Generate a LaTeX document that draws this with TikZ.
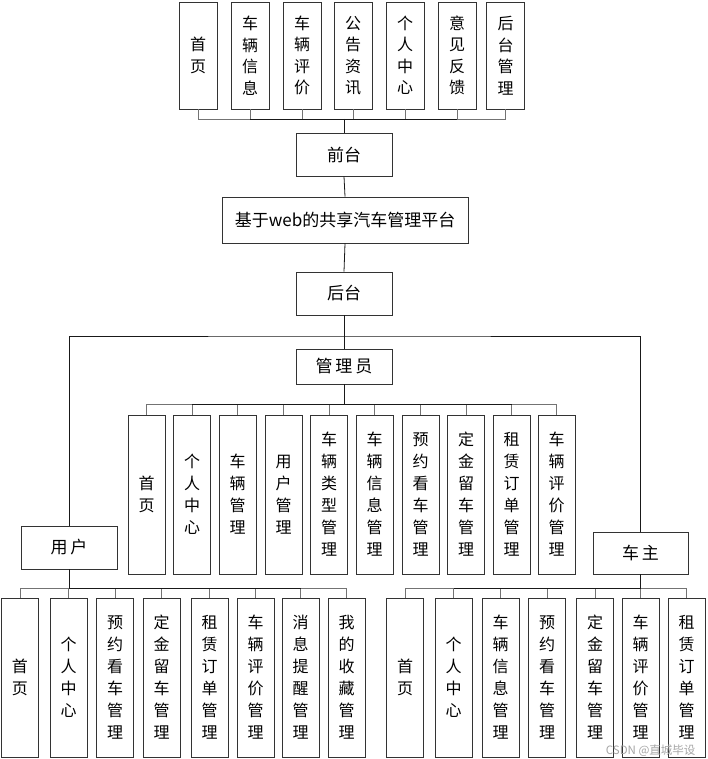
\documentclass[tikz,border=0pt]{standalone}
\usepackage{fontspec}
\setmainfont{Noto Sans CJK SC}
\begin{document}
\begin{tikzpicture}[x=1pt,y=-1pt,
  box/.style={draw=black!80, line width=0.8pt, fill=white, inner sep=0pt, align=center, font=\fontsize{16}{22}\selectfont},
  vbox/.style={box, minimum width=37pt, minimum height=159pt},
  tbox/.style={box, minimum width=38pt, minimum height=107pt, font=\fontsize{16}{21.5}\selectfont},
  hbox/.style={box, minimum width=96pt, minimum height=43pt, font=\fontsize{17}{19}\selectfont},
  link/.style={draw=black!90, line width=0.8pt},
  stub/.style={draw=black!55, line width=0.8pt}]
\useasboundingbox[fill=white] (0,0) rectangle (708,759);
% top row
\node[tbox] (t1) at (198,55.5) {首\\页};
\node[tbox] (t2) at (250,55.5) {车\\辆\\信\\息};
\node[tbox] (t3) at (302,55.5) {车\\辆\\评\\价};
\node[tbox] (t4) at (353,55.5) {公\\告\\资\\讯};
\node[tbox] (t5) at (405,55.5) {个\\人\\中\\心};
\node[tbox] (t6) at (457,55.5) {意\\见\\反\\馈};
\node[tbox] (t7) at (505.5,55.5) {后\\台\\管\\理};
\node[hbox] (qt) at (344,154.5) {前台};
\node[hbox, minimum width=246pt, minimum height=46pt] (main) at (345,220) {基于web的共享汽车管理平台};
\node[hbox] (ht) at (344,293.5) {后台};
\node[hbox, minimum height=35pt] (gly) at (344,366.5) {管\,理\,员};
% admin row
\node[vbox] (a1) at (146.5,494.5) {首\\页};
\node[vbox] (a2) at (192,494.5) {个\\人\\中\\心};
\node[vbox] (a3) at (237.5,494.5) {车\\辆\\管\\理};
\node[vbox] (a4) at (283.5,494.5) {用\\户\\管\\理};
\node[vbox] (a5) at (329,494.5) {车\\辆\\类\\型\\管\\理};
\node[vbox] (a6) at (374.5,494.5) {车\\辆\\信\\息\\管\\理};
\node[vbox] (a7) at (420.5,494.5) {预\\约\\看\\车\\管\\理};
\node[vbox] (a8) at (466,494.5) {定\\金\\留\\车\\管\\理};
\node[vbox] (a9) at (511.5,494.5) {租\\赁\\订\\单\\管\\理};
\node[vbox] (a10) at (556.5,494.5) {车\\辆\\评\\价\\管\\理};
% user and owner
\node[hbox] (yh) at (69,547.5) {用\,户};
\node[hbox, minimum width=95pt, minimum height=42pt] (cz) at (640.5,553) {车\,主};
% user row
\node[vbox] (u1) at (20,677.5) {首\\页};
\node[vbox] (u2) at (68.5,677.5) {个\\人\\中\\心};
\node[vbox] (u3) at (115,677.5) {预\\约\\看\\车\\管\\理};
\node[vbox] (u4) at (161.5,677.5) {定\\金\\留\\车\\管\\理};
\node[vbox] (u5) at (209.5,677.5) {租\\赁\\订\\单\\管\\理};
\node[vbox] (u6) at (255.5,677.5) {车\\辆\\评\\价\\管\\理};
\node[vbox] (u7) at (300.5,677.5) {消\\息\\提\\醒\\管\\理};
\node[vbox] (u8) at (346.5,677.5) {我\\的\\收\\藏\\管\\理};
% owner row
\node[vbox] (o1) at (405,677.5) {首\\页};
\node[vbox] (o2) at (453.5,677.5) {个\\人\\中\\心};
\node[vbox] (o3) at (500.5,677.5) {车\\辆\\信\\息\\管\\理};
\node[vbox] (o4) at (547,677.5) {预\\约\\看\\车\\管\\理};
\node[vbox] (o5) at (595,677.5) {定\\金\\留\\车\\管\\理};
\node[vbox] (o6) at (640.5,677.5) {车\\辆\\评\\价\\管\\理};
\node[vbox] (o7) at (686.5,677.5) {租\\赁\\订\\单\\管\\理};
% connectors
\coordinate (tb) at (344,119);
\foreach \i in {1,...,7} \draw[stub] (t\i.south) |- (tb);
\draw[link] (t2.south |- tb) -- (t6.south |- tb);
\draw[link] (tb) -- (qt.north);
\draw[link] (qt.south) -- (main.north);
\draw[link] (main.south) -- (ht.north);
\draw[link] (ht.south) -- (gly.north);
\coordinate (bl) at (344,336);
\draw[link] (yh.north) |- (bl) -| (cz.north);
\coordinate (ab) at (344,404);
\foreach \i in {1,...,10} \draw[stub] (a\i.north) |- (ab);
\draw[link] (a2.north |- ab) -- (a9.north |- ab);
\draw[link] (gly.south) -- (ab);
\coordinate (ub) at (69,588);
\foreach \i in {1,...,8} \draw[stub] (u\i.north) |- (ub);
\draw[link] (u2.north |- ub) -- (u7.north |- ub);
\draw[link] (yh.south) -- (ub);
\coordinate (ob) at (640.5,588);
\foreach \i in {1,...,7} \draw[stub] (o\i.north) |- (ob);
\draw[link] (o2.north |- ob) -- (o6.north |- ob);
\draw[link] (cz.south) -- (ob);
\node[text=black!35, font=\fontsize{11.5}{12}\selectfont, anchor=east] (wm) at (699,751) {CSDN @直城毕设};
\end{tikzpicture}
\end{document}
